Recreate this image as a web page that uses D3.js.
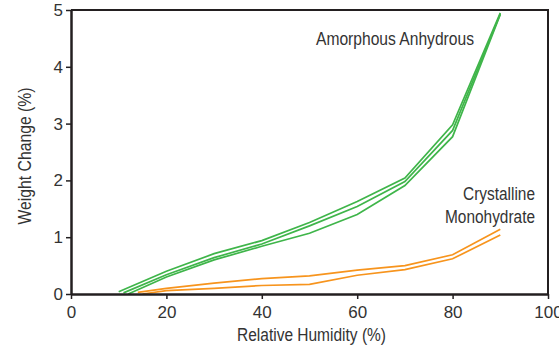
<!DOCTYPE html>
<html>
<head>
<meta charset="utf-8">
<script src="https://cdn.jsdelivr.net/npm/d3@7"></script>
<style>
  body { margin: 0; background: #fff; }
  svg text { font-family: "Liberation Sans", Arial, sans-serif; fill: #333; }
</style>
</head>
<body>
<div id="chart"></div>
<script>
var width = 559, height = 349;

// relative humidity (%) / weight change (%)
var amorphous1 = [[10,0.04],[20,0.40],[30,0.71],[40,0.94],[50,1.26],[60,1.63],[70,2.04],[80,2.98],[90,4.95]];
var amorphous2 = [[11,0.02],[20,0.34],[30,0.64],[40,0.88],[50,1.20],[60,1.54],[70,1.98],[80,2.88],[90,4.93]];
var amorphous3 = [[12,0.00],[20,0.30],[30,0.60],[40,0.84],[50,1.07],[60,1.40],[70,1.91],[80,2.77],[90,4.92]];
var crystal1 = [[14,0.03],[20,0.10],[30,0.19],[40,0.27],[50,0.32],[60,0.42],[70,0.50],[80,0.69],[90,1.14]];
var crystal2 = [[15,0.00],[20,0.06],[30,0.10],[40,0.15],[50,0.17],[60,0.33],[70,0.43],[80,0.62],[90,1.04]];

var xTicks = [0, 20, 40, 60, 80, 100];
var yTicks = [0, 1, 2, 3, 4, 5];

var margin = {top: 10, right: 11, bottom: 55, left: 71};

var x = d3.scaleLinear().domain([0, 100]).range([margin.left, width - margin.right]);
var y = d3.scaleLinear().domain([0, 5]).range([height - margin.bottom, margin.top]);

const svg = d3.select("#chart").append("svg")
    .attr("width", width)
    .attr("height", height);

// top and right frame
svg.append("path")
    .attr("d", `M${x(0)},${y(5)}H${x(100)}V${y(0)}`)
    .attr("fill", "none")
    .attr("stroke", "#231f20")
    .attr("stroke-width", 2);

var line = d3.line()
    .x(d => x(d[0]))
    .y(d => y(d[1]));

var series = [
  {data: amorphous1, color: "#3fb54a"},
  {data: amorphous2, color: "#3fb54a"},
  {data: amorphous3, color: "#3fb54a"},
  {data: crystal1, color: "#f7941d"},
  {data: crystal2, color: "#f7941d"}
];

svg.append("g")
  .selectAll("path")
  .data(series)
  .join("path")
    .attr("fill", "none")
    .attr("stroke", d => d.color)
    .attr("stroke-width", 1.7)
    .attr("d", d => line(d.data));

var xAxis = svg.append("g")
    .attr("transform", `translate(0,${y(0)})`)
    .call(d3.axisBottom(x).tickValues(xTicks).tickFormat(d3.format("d"))
      .tickSize(5).tickPadding(7).tickSizeOuter(0));

var yAxis = svg.append("g")
    .attr("transform", `translate(${x(0)},0)`)
    .call(d3.axisLeft(y).tickValues(yTicks).tickFormat(d3.format("d"))
      .tickSize(5).tickPadding(3).tickSizeOuter(0));

[xAxis, yAxis].forEach(function(g) {
  g.select(".domain").attr("stroke", "#231f20").attr("stroke-width", 2.5);
  g.selectAll(".tick line").attr("stroke", "#231f20").attr("stroke-width", 1.5);
  g.selectAll(".tick text")
      .attr("font-family", "Liberation Sans, Arial, sans-serif")
      .attr("font-size", 17)
      .attr("fill", "#333");
});

// narrow, tall labels like the original (condensed Helvetica)
function label(txt, px, py, len, anchor) {
  return svg.append("text")
      .attr("x", px)
      .attr("y", py)
      .attr("text-anchor", anchor || "start")
      .attr("font-size", 17.5)
      .attr("textLength", len)
      .attr("lengthAdjust", "spacingAndGlyphs")
      .text(txt);
}

label("Relative Humidity (%)", 237, 341, 149);
label("Amorphous Anhydrous", 316, 45, 158);
label("Crystalline", 463, 200, 72);
label("Monohydrate", 445, 223, 90);

svg.append("text")
    .attr("transform", `translate(31,${(y(0) + y(5)) / 2 + 4}) rotate(-90)`)
    .attr("text-anchor", "middle")
    .attr("font-size", 17.5)
    .attr("textLength", 137)
    .attr("lengthAdjust", "spacingAndGlyphs")
    .text("Weight Change (%)");
</script>
</body>
</html>
